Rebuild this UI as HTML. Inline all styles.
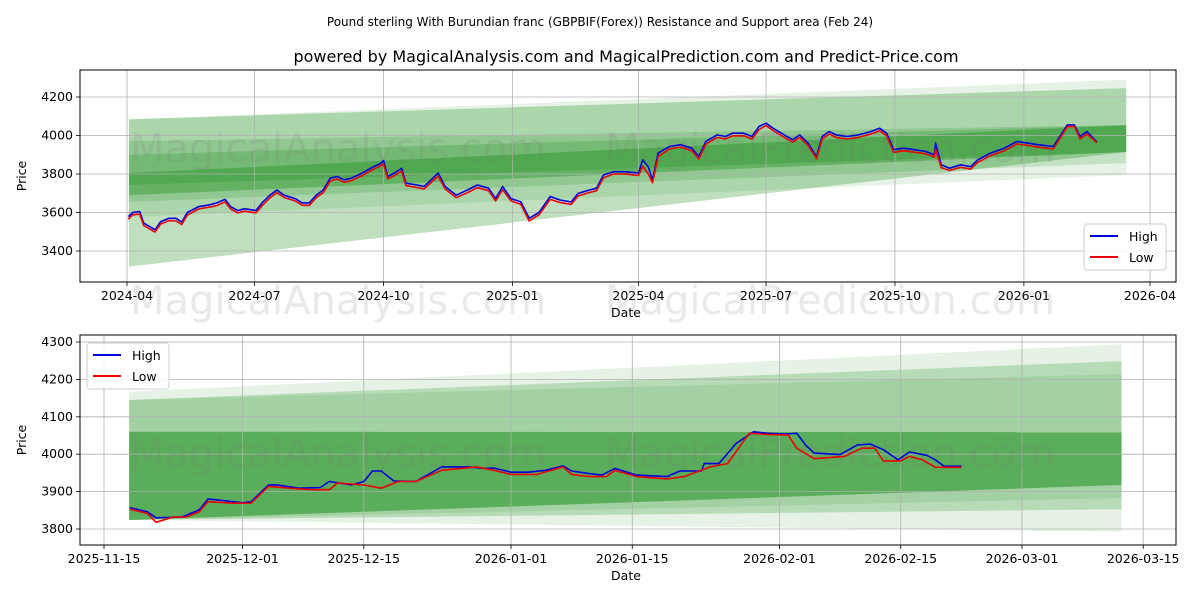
<!DOCTYPE html>
<html><head><meta charset="utf-8">
<style>
body{margin:0;background:#fff;width:1200px;height:600px;overflow:hidden;font-family:"Liberation Sans","DejaVu Sans",sans-serif}
svg text{font-family:"DejaVu Sans","Liberation Sans",sans-serif}
</style></head>
<body>
<svg id="chart" width="1200" height="600" xmlns="http://www.w3.org/2000/svg">
<text x="600" y="26" text-anchor="middle" font-size="12" fill="#000">Pound sterling With Burundian franc (GBPBIF(Forex)) Resistance and Support area (Feb 24)</text>
<text x="626" y="62" text-anchor="middle" font-size="16" fill="#000">powered by MagicalAnalysis.com and MagicalPrediction.com and Predict-Price.com</text>
<g id="top"></g>
<g id="bot"></g>
</svg>
<script>
// ---- Top panel data (days from 2024-04-01) ----
const topDays = [1,4,9,12,20,24,30,35,39,43,51,59,64,70,74,79,84,92,97,102,107,112,120,125,130,135,140,145,150,155,160,168,176,181,183,186,191,196,199,207,212,217,222,227,235,243,250,258,263,268,274,281,287,294,302,309,317,322,330,335,340,347,355,365,368,372,375,379,387,395,403,408,413,421,427,432,440,446,451,456,461,469,475,480,486,492,496,501,506,514,522,531,537,542,547,554,562,570,576,577,581,587,595,602,607,616,626,635,643,650,661,671,676,680,685,692];
const topHigh = [3578,3600,3605,3545,3510,3552,3570,3570,3550,3600,3630,3640,3650,3668,3630,3610,3620,3610,3655,3690,3717,3690,3672,3650,3650,3690,3717,3778,3787,3770,3778,3805,3838,3855,3870,3787,3805,3830,3752,3743,3735,3770,3805,3735,3690,3717,3743,3726,3672,3735,3672,3655,3570,3600,3683,3665,3655,3700,3717,3726,3795,3812,3812,3805,3873,3838,3770,3908,3943,3952,3934,3890,3969,4003,3995,4012,4012,3995,4047,4064,4038,4003,3978,4003,3960,3890,3995,4021,4003,3995,4003,4021,4038,4012,3926,3934,3926,3917,3900,3960,3848,3830,3848,3838,3873,3908,3934,3969,3960,3952,3943,4055,4055,3995,4021,3966];
const topLow = [3565,3588,3592,3532,3498,3540,3558,3556,3538,3586,3618,3628,3636,3655,3618,3598,3607,3598,3640,3676,3704,3678,3660,3638,3637,3677,3703,3763,3774,3757,3765,3792,3825,3843,3852,3775,3792,3815,3740,3730,3722,3756,3790,3722,3677,3703,3729,3713,3660,3718,3660,3642,3556,3588,3668,3652,3642,3686,3704,3713,3780,3800,3800,3792,3840,3800,3755,3890,3930,3940,3921,3878,3955,3990,3982,3998,3999,3982,4030,4052,4026,3990,3966,3990,3947,3880,3980,4008,3990,3982,3990,4008,4025,3999,3912,3921,3913,3905,3888,3930,3834,3818,3835,3825,3860,3895,3921,3956,3948,3940,3930,4045,4048,3983,4008,3962];
const topXTicks = ["2024-04","2024-07","2024-10","2025-01","2025-04","2025-07","2025-10","2026-01","2026-04"];
const topXTickDays = [0,91,183,275,365,456,548,640,730];
const topYTicks = [3400,3600,3800,4000,4200];
// bands: [startTop, startBottom, endTop, endBottom, alpha]
const topBandStartTop = [4084,4084,3971,3805,3900];
const topBandStartBot = [3577,3319,3655,3690,3743];
const topBandEndTop = [4290,4246,4054,4054,4054];
const topBandEndBot = [3795,3914,3857,3914,3914];
const topBandAlpha = [0.1,0.25,0.15,0.3,0.2];

// ---- Bottom panel data (days from 2025-11-15) ----
const botHighDays = [3,5,6,9,11,12,13,16,17,19,20,22.5,25,26,28.6,30,31,32,33.5,36,39,42,44,45,47,49,51,53,54,56,57.5,59,61.5,65,66.5,69,69.3,71,73,75,76.6,78.6,80,81,82,85,87,88.5,90,91.7,93,95,96,97,99];
const botHigh = [3857,3846,3830,3832,3851,3880,3878,3870,3873,3918,3918,3909,3911,3927,3918,3927,3955,3955,3928,3927,3966,3966,3962,3963,3952,3952,3957,3969,3955,3948,3944,3962,3944,3940,3955,3955,3975,3975,4029,4060,4056,4054,4056,4025,4003,3999,4025,4027,4012,3985,4006,3997,3985,3968,3968];
const botLowDays = [3,5,6,8,9.5,11,12,15,17,19,22,24,26,27,30,32,34,36,39,43,45,47,50,53,54,56,58,59,61.5,65,67,70,72,74.5,76.6,79,80,82,85.5,87.5,89,90,92,93,94.5,96,99];
const botLow = [3853,3842,3818,3832,3832,3846,3873,3869,3869,3914,3908,3905,3905,3923,3918,3909,3927,3927,3957,3966,3957,3946,3946,3966,3946,3940,3940,3957,3940,3934,3940,3966,3975,4056,4053,4051,4016,3988,3994,4016,4016,3982,3982,3994,3985,3965,3965];
const botXTicks = ["2025-11-15","2025-12-01","2025-12-15","2026-01-01","2026-01-15","2026-02-01","2026-02-15","2026-03-01","2026-03-15"];
const botXTickDays = [0,16,30,47,61,78,92,106,120];
const botYTicks = [3800,3900,4000,4100,4200,4300];
const botBandStartTop = [4167,4145,4145,4060];
const botBandStartBot = [3824,3824,3824,3824];
const botBandEndTop = [4294,4249,4214,4059];
const botBandEndBot = [3793,3853,3883,3918];
const botBandAlpha = [0.1,0.2,0.1,0.45];

const NS = "http://www.w3.org/2000/svg";
function mk(parent, tag, attrs){const e=document.createElementNS(NS,tag);for(const k in attrs)e.setAttribute(k,attrs[k]);parent.appendChild(e);return e;}

function drawPanel(g, cfg){
  const L=80,R=1176,T=cfg.top,B=cfg.bottom;
  const xs=d=>cfg.x0+d*cfg.pxPerDay;
  const ys=v=>cfg.yRef+(cfg.vRef-v)*cfg.pxPerUnit;
  const frame=mk(g,'rect',{x:L,y:T,width:R-L,height:B-T,fill:'#fff'});
  
  
  // bands
  for(let i=0;i<cfg.bST.length;i++){
    const x1=xs(cfg.bandD0),x2=xs(cfg.bandD1);
    const p=mk(g,'polygon',{points:`${x1},${ys(cfg.bST[i])} ${x2},${ys(cfg.bET[i])} ${x2},${ys(cfg.bEB[i])} ${x1},${ys(cfg.bSB[i])}`,fill:'rgb(0,128,0)','fill-opacity':cfg.bA[i]});
    
    
  }
  // grid
  cfg.yTicks.forEach(v=>{
    const y=ys(v);
    const l=mk(g,'line',{x1:L,x2:R,y1:y,y2:y,stroke:'#b0b0b0','stroke-width':0.8});
    
    
    mk(g,'line',{x1:L-4,x2:L,y1:y,y2:y,stroke:'#000','stroke-width':0.8});
    const t=mk(g,'text',{x:L-7,y:y+4,'text-anchor':'end','font-size':12.5,fill:'#000'});
    t.textContent=v;
    
    
  });
  cfg.xTickDays.forEach((d,i)=>{
    const x=xs(d);
    const l=mk(g,'line',{x1:x,x2:x,y1:T,y2:B,stroke:'#b0b0b0','stroke-width':0.8});
    
    
    mk(g,'line',{x1:x,x2:x,y1:B,y2:B+4,stroke:'#000','stroke-width':0.8});
    const t=mk(g,'text',{x:x,y:B+18,'text-anchor':'middle','font-size':12.5,fill:'#000'});
    t.textContent=cfg.xTicks[i];
    
    
  });
  // watermarks
  cfg.wm.forEach(w=>{
    const t=mk(g,'text',{x:w[0],y:w[1],'font-size':w[2],fill:'rgba(120,120,120,0.16)'});
    t.textContent=w[3];
    
    
  });
  // lines
  const path=(days,vals)=>days.map((d,i)=>(i?'L':'M')+xs(d).toFixed(1)+','+ys(vals[i]).toFixed(1)).join(' ');
  const hl=mk(g,'path',{d:path(cfg.hd,cfg.hv),fill:'none',stroke:'#0000dd','stroke-width':1.6,'stroke-linejoin':'round'});
  
  
  const ll=mk(g,'path',{d:path(cfg.ld,cfg.lv),fill:'none',stroke:'#ee0000','stroke-width':1.6,'stroke-linejoin':'round'});
  
  
  const fr=mk(g,'rect',{x:L,y:T,width:R-L,height:B-T,fill:'none',stroke:'#000','stroke-width':1});
  
  
  const yl=mk(g,'text',{x:26,y:(T+B)/2,'text-anchor':'middle','font-size':12.5,transform:`rotate(-90 26 ${(T+B)/2})`});
  yl.textContent='Price';
  
  
  const xl=mk(g,'text',{x:626,y:B+35,'text-anchor':'middle','font-size':12.5});
  xl.textContent='Date';
  
  
  // legend
  const [lx,ly]=cfg.legend;
  const lg=mk(g,'g',{});
  
  
  mk(lg,'rect',{x:lx,y:ly,width:82,height:46,rx:3,fill:'rgba(255,255,255,0.85)',stroke:'#ccc'});
  [['High','#0000dd'],['Low','#ee0000']].forEach((e,i)=>{
    const eg=mk(lg,'g',{});
    
    
    mk(eg,'line',{x1:lx+6,x2:lx+34,y1:ly+12+i*21,y2:ly+12+i*21,stroke:e[1],'stroke-width':2});
    const t=mk(eg,'text',{x:lx+45,y:ly+17+i*21,'font-size':12.5});
    t.textContent=e[0];
  });
}

drawPanel(document.getElementById('top'),{
  top:70,bottom:282,x0:127,pxPerDay:1.4014,yRef:97,vRef:4200,pxPerUnit:0.1925,
  bandD0:1.4,bandD1:713,bST:topBandStartTop,bSB:topBandStartBot,bET:topBandEndTop,bEB:topBandEndBot,bA:topBandAlpha,
  yTicks:topYTicks,xTicks:topXTicks,xTickDays:topXTickDays,
  hd:topDays,hv:topHigh,ld:topDays,lv:topLow,legend:[1084,224],
  wm:[[130,162,40,'MagicalAnalysis.com'],[605,162,40,'MagicalPrediction.com'],[130,314,40,'MagicalAnalysis.com'],[605,314,40,'MagicalPrediction.com']]
});
drawPanel(document.getElementById('bot'),{
  top:335,bottom:545,x0:104,pxPerDay:8.66,yRef:342,vRef:4300,pxPerUnit:0.374,
  bandD0:2.9,bandD1:117.5,bST:botBandStartTop,bSB:botBandStartBot,bET:botBandEndTop,bEB:botBandEndBot,bA:botBandAlpha,
  yTicks:botYTicks,xTicks:botXTicks,xTickDays:botXTickDays,
  hd:botHighDays,hv:botHigh,ld:botLowDays,lv:botLow,legend:[87,343],
  wm:[[130,467,40,'MagicalAnalysis.com'],[605,467,40,'MagicalPrediction.com']]
});
</script>
</body></html>
